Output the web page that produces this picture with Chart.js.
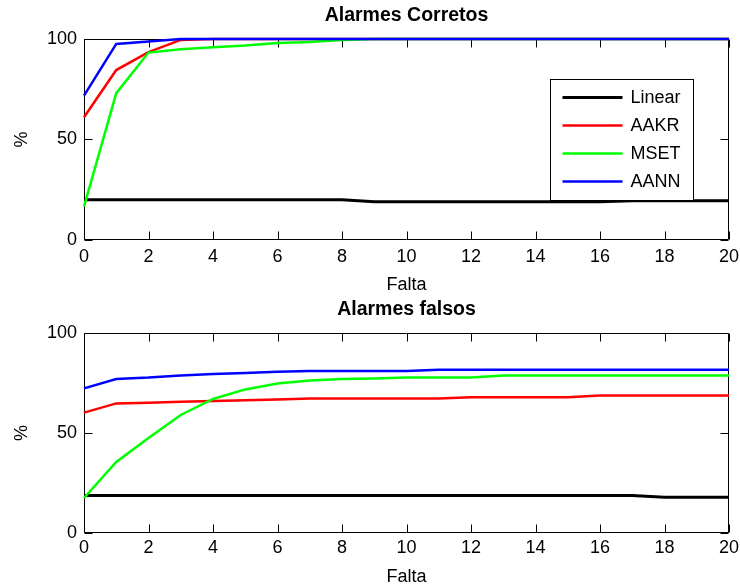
<!DOCTYPE html>
<html>
<head>
<meta charset="utf-8">
<script src="https://cdn.jsdelivr.net/npm/chart.js@4.4.1/dist/chart.umd.min.js"></script>
<style>
  html, body { margin: 0; padding: 0; background: #fff; overflow: hidden; width: 740px; height: 585px; }
  canvas { position: absolute; left: 0; }
  #c1 { top: 0; }
  #c2 { top: 296px; }
</style>
</head>
<body>
<canvas id="c1" width="740" height="296"></canvas>
<canvas id="c2" width="740" height="296"></canvas>
<script>
// ---------- data ----------
const falta = [0,1,2,3,4,5,6,7,8,9,10,11,12,13,14,15,16,17,18,19,20];
const seriesNames = ['Linear', 'AAKR', 'MSET', 'AANN'];
const seriesColors = ['#000000', '#ff0000', '#00ff00', '#0000ff'];
const xTickValues = [0,2,4,6,8,10,12,14,16,18,20];
const yTickValues = [0,50,100];

// Alarmes Corretos
const linearCorretos = [20,20,20,20,20,20,20,20,20,19,19,19,19,19,19,19,19,19.5,19.5,19.5,19.5];
const aakrCorretos   = [61,84.5,93.4,99.5,100,100,100,100,100,100,100,100,100,100,100,100,100,100,100,100,100];
const msetCorretos   = [16.6,73,93.2,94.9,95.9,96.7,97.9,98.5,99.4,100,100,100,100,100,100,100,100,100,100,100,100];
const aannCorretos   = [71.8,97.5,98.7,100,100,100,100,100,100,100,100,100,100,100,100,100,100,100,100,100,100];

// Alarmes falsos
const linearFalsos = [18.7,18.7,18.7,18.7,18.7,18.7,18.7,18.7,18.7,18.7,18.7,18.7,18.7,18.7,18.7,18.7,18.7,18.7,17.9,17.9,17.9];
const aakrFalsos   = [60.2,64.8,65.1,65.6,66,66.4,66.8,67.2,67.2,67.2,67.2,67.2,67.9,67.9,67.9,67.9,68.7,68.7,68.7,68.7,68.7];
const msetFalsos   = [17.5,35.5,47.5,59,67,71.8,74.8,76.2,77,77.3,77.8,77.8,77.8,78.7,78.7,78.7,78.7,78.7,78.7,78.7,78.7];
const aannFalsos   = [72.3,77,77.7,78.8,79.5,80,80.6,81,81,81,81,81.6,81.6,81.6,81.6,81.6,81.6,81.6,81.6,81.6,81.6];

// ---------- plugins ----------
const FONT = '"Liberation Sans", Arial, sans-serif';

const matlabAxes = {
  id: 'matlabAxes',
  beforeDatasetsDraw(chart) {
    const { ctx, chartArea: a, scales: { x, y } } = chart;
    const L = Math.round(a.left) + 0.5, R = Math.round(a.right) - 0.5;
    const T = Math.round(a.top) + 0.5, B = Math.round(a.bottom) - 0.5;
    const tl = 8;
    ctx.save();
    ctx.strokeStyle = '#000';
    ctx.lineWidth = 1;
    ctx.beginPath();
    ctx.rect(L, T, R - L, B - T);
    x.ticks.forEach(t => {
      const px = Math.round(x.getPixelForValue(t.value)) + 0.5;
      ctx.moveTo(px, B); ctx.lineTo(px, B - tl);
      ctx.moveTo(px, T); ctx.lineTo(px, T + tl);
    });
    y.ticks.forEach(t => {
      const py = Math.round(y.getPixelForValue(t.value)) + 0.5;
      ctx.moveTo(L, py); ctx.lineTo(L + tl, py);
      ctx.moveTo(R, py); ctx.lineTo(R - tl, py);
    });
    ctx.stroke();
    ctx.restore();
  }
};

const insideLegend = {
  id: 'insideLegend',
  afterDatasetsDraw(chart, args, opts) {
    if (!opts.show) return;
    const { ctx, chartArea: a } = chart;
    const w = 143, h = 121;
    const left = Math.round(a.right - opts.right - w) + 0.5;
    const top = Math.round(a.top + opts.top) + 0.5;
    ctx.save();
    ctx.fillStyle = '#fff';
    ctx.fillRect(left, top, w, h);
    ctx.strokeStyle = '#000';
    ctx.lineWidth = 1;
    ctx.strokeRect(left, top, w, h);
    ctx.font = '18px ' + FONT;
    ctx.textBaseline = 'middle';
    ctx.textAlign = 'left';
    chart.data.datasets.forEach((ds, i) => {
      const yy = top + 18 + 28 * i;
      ctx.strokeStyle = ds.borderColor;
      ctx.lineWidth = ds.borderWidth;
      ctx.beginPath();
      ctx.moveTo(left + 12, yy);
      ctx.lineTo(left + 72, yy);
      ctx.stroke();
      ctx.fillStyle = '#000';
      ctx.fillText(ds.label, left + 80, yy + 1);
    });
    ctx.restore();
  }
};

function makeChart(canvasId, titleText, values, geo) {
  const datasets = values.map((vals, i) => ({
    label: seriesNames[i],
    data: falta.map((f, j) => ({ x: f, y: vals[j] })),
    borderColor: seriesColors[i],
    backgroundColor: seriesColors[i],
    borderWidth: i === 0 ? 3 : 2.5,
    pointRadius: 0,
    tension: 0,
    clip: false,
    fill: false,
    order: -i
  }));
  return new Chart(document.getElementById(canvasId), {
    type: 'line',
    data: { datasets },
    plugins: [matlabAxes, insideLegend],
    options: {
      responsive: false,
      animation: false,
      devicePixelRatio: 1,
      layout: { padding: { left: 0, right: 11, top: 0, bottom: 0 } },
      plugins: {
        legend: { display: false },
        tooltip: { enabled: false },
        title: {
          display: true,
          text: titleText,
          fullSize: false,
          color: '#000',
          font: { family: FONT, size: 19.5, weight: 'bold' },
          padding: { top: geo.titleTop, bottom: geo.titleBottom }
        },
        insideLegend: { show: geo.legend, right: 36, top: 40 }
      },
      scales: {
        x: {
          type: 'linear',
          min: 0, max: 20,
          afterBuildTicks: s => { s.ticks = xTickValues.map(v => ({ value: v })); },
          grid: { display: false, drawTicks: false },
          border: { display: false },
          ticks: {
            color: '#000', padding: geo.xTickPad, maxRotation: 0, autoSkip: false,
            font: { family: FONT, size: 18 }
          },
          title: {
            display: true, text: 'Falta', color: '#000',
            font: { family: FONT, size: 18 },
            padding: { top: 0, bottom: geo.xTitlePad }
          },
          afterFit: s => { s.height = geo.xHeight; s.paddingLeft = 0; s.paddingRight = 11; }
        },
        y: {
          type: 'linear',
          min: 0, max: 100,
          afterBuildTicks: s => { s.ticks = yTickValues.map(v => ({ value: v })); },
          grid: { display: false, drawTicks: false },
          border: { display: false },
          ticks: { color: '#000', padding: 7, font: { family: FONT, size: 18 } },
          title: {
            display: true, text: '%', color: '#000',
            font: { family: FONT, size: 18 },
            padding: { top: 11.5, bottom: 0 }
          },
          afterFit: s => { s.width = 84; }
        }
      }
    }
  });
}

makeChart('c1', 'Alarmes Corretos',
  [linearCorretos, aakrCorretos, msetCorretos, aannCorretos],
  { titleTop: 3.5, titleBottom: 12, xTickPad: 6, xTitlePad: 0.5, xHeight: 56, legend: true });

makeChart('c2', 'Alarmes falsos',
  [linearFalsos, aakrFalsos, msetFalsos, aannFalsos],
  { titleTop: 2.3, titleBottom: 11.3, xTickPad: 4.5, xTitlePad: 4.5, xHeight: 59, legend: false });
</script>
</body>
</html>
